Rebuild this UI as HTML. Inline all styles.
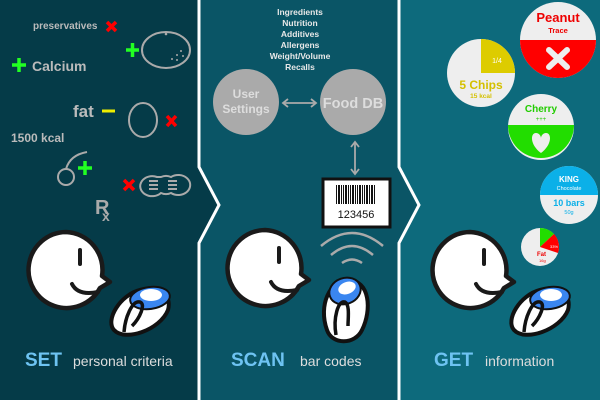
<!DOCTYPE html>
<html><head><meta charset="utf-8"><style>
html,body{margin:0;padding:0;background:#053b48}
svg{display:block}
text{font-family:"Liberation Sans",sans-serif}
</style></head><body>
<svg width="600" height="400" viewBox="0 0 600 400" xmlns="http://www.w3.org/2000/svg">
<defs>
<g id="face">
<path d="M0,-38 A38,38 0 1,0 34,18 L44,12 L36,6 A38,38 0 0,0 0,-38Z" fill="#fff" stroke="#1a1a1a" stroke-width="4.5" stroke-linejoin="round"/>
<line x1="14" y1="-20" x2="14" y2="-6" stroke="#1a1a1a" stroke-width="4" stroke-linecap="round"/>
<path d="M6,14 Q12,26 32,22" fill="none" stroke="#1a1a1a" stroke-width="4" stroke-linecap="round"/>
</g>
</defs>
<rect width="600" height="400" fill="#053b48"/>
<path d="M200,0 L400,0 L400,167 L420,205 L400,243 L400,400 L200,400 L200,243 L220,205 L200,167Z" fill="#0a5566"/>
<path d="M400,0 L600,0 L600,400 L400,400 L400,243 L420,205 L400,167Z" fill="#0d6a7c"/>
<path d="M199,0 L199,167 L219,205 L199,243 L199,400" fill="none" stroke="#fff" stroke-width="3"/>
<path d="M399,0 L399,167 L419,205 L399,243 L399,400" fill="none" stroke="#fff" stroke-width="3"/>

<text x="33" y="29" font-size="10" font-weight="bold" fill="#bbb">preservatives</text>
<g stroke="#f00" stroke-width="3.5"><line x1="107" y1="22" x2="116" y2="31"/><line x1="116" y1="22" x2="107" y2="31"/></g>
<g stroke="#2f2" stroke-width="3.5"><line x1="126" y1="50" x2="139" y2="50"/><line x1="132.5" y1="43" x2="132.5" y2="57"/></g>
<ellipse cx="166" cy="50" rx="24" ry="18" fill="none" stroke="#aaa" stroke-width="2"/>
<g fill="#aaa"><circle cx="166" cy="34" r="1.3"/><circle cx="181" cy="51" r="1"/><circle cx="177" cy="55" r="1"/><circle cx="172" cy="59" r="1"/><circle cx="177" cy="60" r="1"/><circle cx="183" cy="56" r="1"/></g>
<g stroke="#2f2" stroke-width="3.5"><line x1="12" y1="65" x2="26" y2="65"/><line x1="19" y1="58" x2="19" y2="72"/></g>
<text x="32" y="71" font-size="14" font-weight="bold" fill="#bbb">Calcium</text>
<text x="73" y="117" font-size="17" font-weight="bold" fill="#bbb">fat</text>
<line x1="102" y1="111" x2="115" y2="111" stroke="#ee0" stroke-width="3"/>
<ellipse cx="143" cy="120" rx="14" ry="17" fill="none" stroke="#aaa" stroke-width="2"/>
<g stroke="#f00" stroke-width="3.5"><line x1="167" y1="116" x2="176" y2="126"/><line x1="176" y1="116" x2="167" y2="126"/></g>
<text x="11" y="142" font-size="12" font-weight="bold" fill="#bbb">1500 kcal</text>
<circle cx="66" cy="177" r="8" fill="none" stroke="#aaa" stroke-width="2"/>
<path d="M66,169 Q70,155 87,152" fill="none" stroke="#aaa" stroke-width="2"/>
<g stroke="#2f2" stroke-width="3.5"><line x1="78" y1="168" x2="92" y2="168"/><line x1="85" y1="161" x2="85" y2="175"/></g>
<g stroke="#f00" stroke-width="3.5"><line x1="124" y1="180" x2="134" y2="190"/><line x1="134" y1="180" x2="124" y2="190"/></g>
<path d="M157,177 A12,10 0 1,0 161,193 A10,8 0 0,0 171,193 A12,10 0 1,0 171,177 A10,8 0 0,0 161,177 Z" fill="none" stroke="#aaa" stroke-width="2"/>
<g fill="#aaa"><rect x="149" y="180" width="9" height="2"/><rect x="149" y="184" width="9" height="2"/><rect x="149" y="188" width="9" height="2"/><rect x="168" y="180" width="9" height="2"/><rect x="168" y="184" width="9" height="2"/><rect x="168" y="188" width="9" height="2"/></g>
<text x="95" y="214" font-size="20" font-weight="bold" fill="#aaa">R</text>
<text x="102" y="221" font-size="14" font-weight="bold" fill="#aaa">x</text>

<g font-size="8.5" font-weight="bold" fill="#e8e8e8" text-anchor="middle">
<text x="300" y="15">Ingredients</text><text x="300" y="26">Nutrition</text><text x="300" y="37">Additives</text><text x="300" y="48">Allergens</text><text x="300" y="59">Weight/Volume</text><text x="300" y="70">Recalls</text>
</g>
<circle cx="246" cy="102" r="33" fill="#aaa"/>
<circle cx="353" cy="102" r="33" fill="#aaa"/>
<text x="246" y="98" font-size="12" font-weight="bold" fill="#ddd" text-anchor="middle">User</text>
<text x="246" y="113" font-size="12" font-weight="bold" fill="#ddd" text-anchor="middle">Settings</text>
<text x="353" y="108" font-size="14.5" font-weight="bold" fill="#ddd" text-anchor="middle">Food DB</text>
<g stroke="#aaa" stroke-width="1.8" fill="none">
<line x1="283" y1="103" x2="316" y2="103"/><path d="M288,99 L283,103 L288,107 M311,99 L316,103 L311,107"/>
<line x1="355" y1="142" x2="355" y2="174"/><path d="M351,147 L355,142 L359,147 M351,169 L355,174 L359,169"/>
</g>
<rect x="323" y="179" width="67" height="48" fill="#fff" stroke="#111" stroke-width="3"/>
<g fill="#111">
<rect x="336" y="185" width="1" height="19"/><rect x="338" y="185" width="2" height="19"/><rect x="341" y="185" width="1" height="19"/><rect x="343" y="185" width="1" height="19"/><rect x="345" y="185" width="2" height="19"/><rect x="348" y="185" width="1" height="19"/><rect x="350" y="185" width="1" height="19"/><rect x="352" y="185" width="2" height="19"/><rect x="355" y="185" width="1" height="19"/><rect x="357" y="185" width="1" height="19"/><rect x="359" y="185" width="2" height="19"/><rect x="362" y="185" width="1" height="19"/><rect x="364" y="185" width="1" height="19"/><rect x="366" y="185" width="2" height="19"/><rect x="369" y="185" width="1" height="19"/><rect x="371" y="185" width="2" height="19"/><rect x="374" y="185" width="1" height="19"/>
</g>
<text x="356" y="218" font-size="11" fill="#111" text-anchor="middle">123456</text>
<g stroke="#aaa" stroke-width="2.5" fill="none">
<path d="M321,246 Q352,220 383,246"/><path d="M331,255 Q352,237 373,255"/><path d="M342,263 Q352,256 362,263"/>
</g>

<use href="#face" x="66" y="270"/>
<use href="#face" x="265" y="268"/>
<use href="#face" x="470" y="270"/>

<g stroke="#111" stroke-width="4">
<path d="M114,330 C105,320 120,295 140,290 C160,285 172,295 168,310 C160,330 125,342 114,330Z" fill="#fff"/>
<ellipse cx="150" cy="298" rx="20" ry="11" transform="rotate(-8 150 298)" fill="#3a86f0" stroke-width="2"/>
<ellipse cx="151" cy="295" rx="11" ry="6" fill="#fff" stroke="none"/>
<path d="M124,332 C125,318 132,300 140,302 C146,304 140,318 132,326" fill="none" stroke-width="3.5"/>
</g>
<g stroke="#111" stroke-width="4">
<path d="M327,330 C318,305 330,280 348,280 C370,280 372,310 362,330 C355,345 332,345 327,330Z" fill="#fff"/>
<ellipse cx="345" cy="291" rx="16" ry="13" transform="rotate(-20 345 291)" fill="#3a86f0" stroke-width="2"/>
<ellipse cx="347" cy="288" rx="9" ry="6" transform="rotate(-20 347 288)" fill="#fff" stroke="none"/>
<path d="M336,335 C333,318 338,300 345,302 C350,305 348,318 348,326" fill="none" stroke-width="3.5"/>
</g>
<g stroke="#111" stroke-width="4">
<path d="M514,330 C505,320 520,295 540,290 C560,285 572,295 568,310 C560,330 525,342 514,330Z" fill="#fff"/>
<ellipse cx="550" cy="298" rx="20" ry="11" transform="rotate(-8 550 298)" fill="#3a86f0" stroke-width="2"/>
<ellipse cx="551" cy="295" rx="11" ry="6" fill="#fff" stroke="none"/>
<path d="M524,332 C525,318 532,300 540,302 C546,304 540,318 532,326" fill="none" stroke-width="3.5"/>
</g>

<text x="25" y="366" font-size="19" font-weight="bold" fill="#6ec3f2">SET</text>
<text x="73" y="366" font-size="14" fill="#ddd">personal criteria</text>
<text x="231" y="366" font-size="19" font-weight="bold" fill="#6ec3f2">SCAN</text>
<text x="300" y="366" font-size="14" fill="#ddd">bar codes</text>
<text x="434" y="366" font-size="19" font-weight="bold" fill="#6ec3f2">GET</text>
<text x="485" y="366" font-size="14" fill="#ddd">information</text>

<circle cx="558" cy="40" r="38" fill="#eee"/>
<path d="M520,40 L596,40 A38,38 0 0,1 520,40Z" fill="#f00"/>
<text x="558" y="22" font-size="13" font-weight="bold" fill="#e00" text-anchor="middle">Peanut</text>
<text x="558" y="33" font-size="7.5" font-weight="bold" fill="#e00" text-anchor="middle">Trace</text>
<g stroke="#eee" stroke-width="6" stroke-linecap="round"><line x1="549" y1="50" x2="567" y2="67"/><line x1="567" y1="50" x2="549" y2="67"/></g>
<circle cx="481" cy="73" r="34" fill="#eee"/>
<path d="M481,73 L481,39 A34,34 0 0,1 515,73Z" fill="#ddcc00"/>
<text x="497" y="63" font-size="7" fill="#fff" text-anchor="middle">1/4</text>
<text x="481" y="89" font-size="12" font-weight="bold" fill="#d4c000" text-anchor="middle">5 Chips</text>
<text x="481" y="98" font-size="6.5" font-weight="bold" fill="#d4c000" text-anchor="middle">15 kcal</text>
<circle cx="541" cy="127" r="33" fill="#eee"/>
<path d="M508,125 L574,125 A33,33 0 0,1 508,125Z" fill="#22dd00"/>
<text x="541" y="112" font-size="10" font-weight="bold" fill="#22cc00" text-anchor="middle">Cherry</text>
<text x="541" y="121" font-size="6" fill="#22cc00" text-anchor="middle">+++</text>
<path d="M541,153 C530,145 530,133 536,133 C539,133 541,136 541,138 C541,136 543,133 546,133 C552,133 552,145 541,153Z" fill="#eee"/>
<circle cx="569" cy="195" r="29" fill="#eee"/>
<path d="M540,195 A29,29 0 0,1 598,195Z" fill="#0bb0e8"/>
<text x="569" y="182" font-size="8" font-weight="bold" fill="#fff" text-anchor="middle">KING</text>
<text x="569" y="190" font-size="5.5" fill="#fff" text-anchor="middle">Chocolate</text>
<text x="569" y="206" font-size="9" font-weight="bold" fill="#0bb0e8" text-anchor="middle">10 bars</text>
<text x="569" y="214" font-size="5.5" fill="#0bb0e8" text-anchor="middle">50g</text>
<circle cx="540" cy="247" r="19" fill="#eee"/>
<path d="M540,247 L540,228 A19,19 0 0,1 554,234Z" fill="#22dd00"/>
<path d="M540,247 L554,234 A19,19 0 0,1 558,253Z" fill="#f00"/>
<text x="550" y="248" font-size="4" fill="#fff">33%</text>
<text x="537" y="256" font-size="6" font-weight="bold" fill="#e00">Fat</text>
<text x="539" y="262" font-size="4" fill="#e00">16g</text>
</svg>
</body></html>
